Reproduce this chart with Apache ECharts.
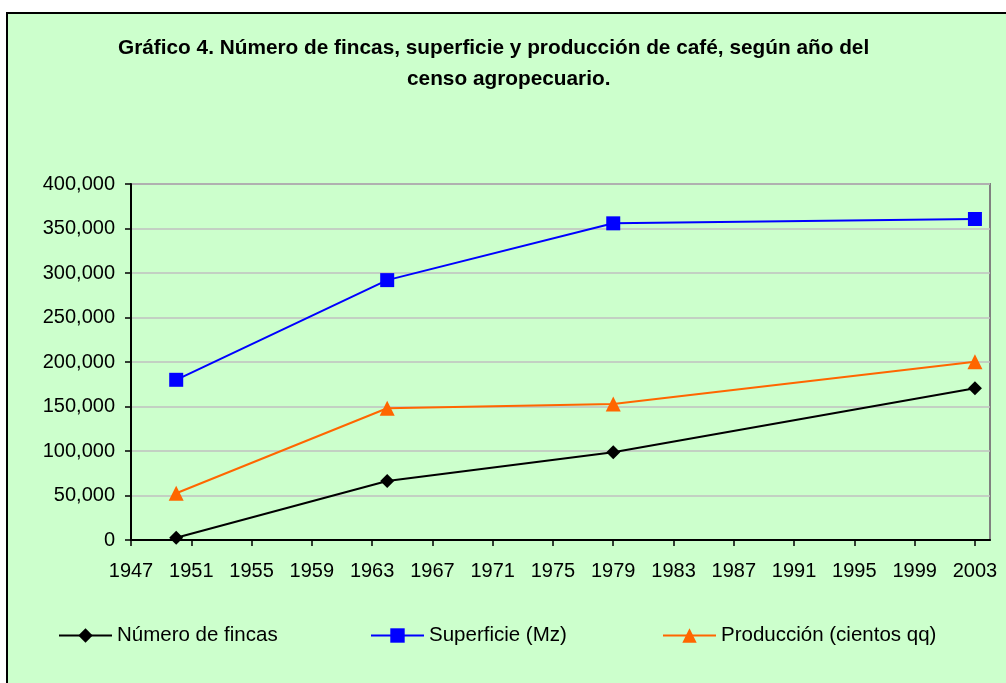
<!DOCTYPE html>
<html>
<head>
<meta charset="utf-8">
<script src="https://cdn.jsdelivr.net/npm/echarts@6/dist/echarts.min.js"></script>
<style>
  html, body { margin: 0; padding: 0; background: #fff; }
  #main { width: 1006px; height: 683px; }
</style>
</head>
<body>
<div id="main"></div>
<script>
// años del censo y valores
var years = [1950, 1964, 1979, 2003];
var fincas = [2600, 66300, 98500, 170400];
var superficie = [180000, 292000, 355800, 360700];
var produccion = [52500, 148000, 152800, 200400];
var xTicks = [1947, 1951, 1955, 1959, 1963, 1967, 1971, 1975, 1979, 1983, 1987, 1991, 1995, 1999, 2003];
var seriesNames = ['Número de fincas', 'Superficie (Mz)', 'Producción (cientos qq)'];

var font = 'Arial, "Liberation Sans", sans-serif';
var myChart = echarts.init(document.getElementById('main'));

function pairs(vals) {
	return years.map(function (y, i) { return [y, vals[i]]; });
}

function legendAt(name, left) {
	return {
		data: [name],
		left: left,
		top: 625,
		padding: 0,
		itemWidth: 53,
		itemHeight: 18,
		itemGap: 0,
		textStyle: { fontFamily: font, fontSize: 20.5, color: '#000' }
	};
}

var option = {
	backgroundColor: '#fff',
	animation: false,
	graphic: [{
		type: 'rect',
		z: -10,
		shape: { x: 7, y: 13, width: 1010, height: 680 },
		style: { fill: '#CCFFCC', stroke: '#000', lineWidth: 2 }
	}],
	title: [
		{
			text: 'Gráfico 4. Número de fincas, superficie y producción de café, según año del',
			left: 113, top: 33,
			textStyle: { fontFamily: font, fontSize: 20.8, fontWeight: 'bold', color: '#000' }
		},
		{
			text: 'censo agropecuario.',
			left: 402, top: 64,
			textStyle: { fontFamily: font, fontSize: 20.8, fontWeight: 'bold', color: '#000' }
		}
	],
	legend: [
		legendAt(seriesNames[0], 58),
		legendAt(seriesNames[1], 370),
		legendAt(seriesNames[2], 662)
	],
	grid: {
		left: 131, right: 16, top: 184, bottom: 143,
		show: true,
		borderColor: '#808080',
		borderWidth: 2,
		backgroundColor: 'transparent'
	},
	xAxis: {
		type: 'value',
		min: 1947, max: 2004,
		interval: 4,
		splitLine: { show: false },
		axisLine: { lineStyle: { color: '#000', width: 2 } },
		axisTick: { show: true, length: 6, customValues: xTicks, lineStyle: { color: '#000', width: 1.5 } },
		axisLabel: {
			customValues: xTicks,
			margin: 21,
			fontFamily: font, fontSize: 20, color: '#000',
			formatter: function (v) { return String(v); }
		}
	},
	yAxis: {
		type: 'value',
		min: 0, max: 400000,
		interval: 50000,
		axisLine: { show: true, lineStyle: { color: '#000', width: 2 } },
		axisTick: { show: true, length: 6, lineStyle: { color: '#000', width: 1.5 } },
		splitLine: { lineStyle: { color: '#C0C0C0', width: 1.5 } },
		axisLabel: {
			margin: 16,
			fontFamily: font, fontSize: 20, color: '#000',
			formatter: function (v) { return v.toLocaleString('en-US'); }
		}
	},
	series: [
		{
			name: seriesNames[0], type: 'line', data: pairs(fincas),
			symbol: 'diamond', symbolSize: 14,
			lineStyle: { color: '#000', width: 2 },
			itemStyle: { color: '#000' }
		},
		{
			name: seriesNames[1], type: 'line', data: pairs(superficie),
			symbol: 'rect', symbolSize: 14,
			lineStyle: { color: '#0000FF', width: 2 },
			itemStyle: { color: '#0000FF' }
		},
		{
			name: seriesNames[2], type: 'line', data: pairs(produccion),
			symbol: 'triangle', symbolSize: 15,
			lineStyle: { color: '#FF6600', width: 2 },
			itemStyle: { color: '#FF6600' }
		}
	]
};
myChart.setOption(option);
</script>
</body>
</html>
